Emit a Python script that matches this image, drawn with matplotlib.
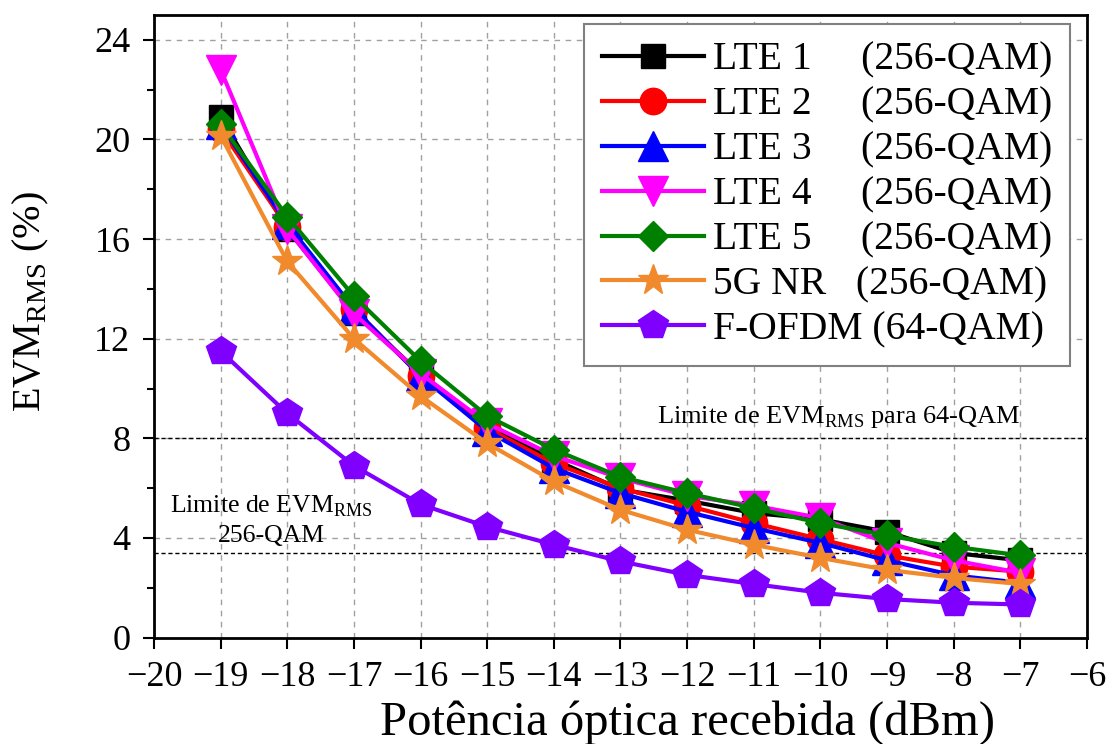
import numpy as np
import matplotlib
matplotlib.use("Agg")
import matplotlib.pyplot as plt

plt.rcParams['font.family'] = ['Liberation Serif', 'DejaVu Serif']
plt.rcParams['mathtext.fontset'] = 'custom'
plt.rcParams['mathtext.rm'] = 'Liberation Serif'

# Received optical power (dBm)
potencia = [-19, -18, -17, -16, -15, -14, -13, -12, -11, -10, -9, -8, -7]

# EVM_RMS (%) per signal
lte1 = [20.9, 16.4, 13.05, 10.6, 8.5, 7.15, 5.95, 5.5, 5.0, 4.75, 4.25, 3.4, 3.1]
lte2 = [20.4, 16.5, 13.2, 10.5, 8.4, 7.0, 6.0, 5.3, 4.6, 3.95, 3.3, 2.85, 2.65]
lte3 = [20.6, 16.6, 13.2, 10.5, 8.3, 6.8, 5.8, 5.05, 4.4, 3.8, 3.1, 2.5, 2.2]
lte4 = [22.8, 16.4, 13.0, 10.6, 8.6, 7.3, 6.4, 5.7, 5.3, 4.8, 3.8, 3.1, 2.6]
lte5 = [20.6, 16.9, 13.7, 11.1, 8.9, 7.55, 6.45, 5.8, 5.2, 4.6, 4.1, 3.65, 3.3]
nr5g = [20.15, 15.1, 12.0, 9.7, 7.8, 6.27, 5.13, 4.33, 3.73, 3.2, 2.72, 2.4, 2.15]
fofdm = [11.5, 9.0, 6.9, 5.35, 4.45, 3.73, 3.06, 2.52, 2.15, 1.8, 1.55, 1.4, 1.33]

series = [
    (lte1, 'LTE 1     (256-QAM)', 'black', 's', 17),
    (lte2, 'LTE 2     (256-QAM)', 'red', 'o', 19),
    (lte3, 'LTE 3     (256-QAM)', 'blue', '^', 21),
    (lte4, 'LTE 4     (256-QAM)', 'magenta', 'v', 21),
    (lte5, 'LTE 5     (256-QAM)', 'green', 'D', 15),
    (nr5g, '5G NR   (256-QAM)', '#F08A2C', '*', 23),
    (fofdm, 'F-OFDM (64-QAM)', '#8000FF', 'p', 22),
]

fig = plt.figure(figsize=(11.08, 7.44), dpi=100)
ax = fig.add_axes([0.139, 0.143, 0.842, 0.837])

ax.grid(True, color='#A0A0A0', linestyle=(0, (4, 4)), linewidth=1)
ax.set_axisbelow(True)

# EVM limits
ax.axhline(8, color='black', linestyle=(0, (3, 2)), linewidth=1, zorder=1)
ax.axhline(3.4, color='black', linestyle=(0, (3, 2)), linewidth=1, zorder=1)

for y, lab, c, m, ms in series:
    ax.plot(potencia, y, color=c, marker=m, markersize=ms, linewidth=3, label=lab)

ax.text(-7.0, 8.6, r'Limite de EVM$_{\mathrm{RMS}}$ para 64-QAM', ha='right', va='baseline', fontsize=19)
ax.text(-18.24, 5.02, r'Limite de EVM$_{\mathrm{RMS}}$', ha='center', va='baseline', fontsize=18.5)
ax.text(-18.24, 3.85, '256-QAM', ha='center', va='baseline', fontsize=18.5)

ax.set_xlim(-20, -6)
ax.set_ylim(0, 25)
ax.set_xticks(np.arange(-20, -5, 1))
ax.set_yticks(np.arange(0, 25, 4))
ax.set_yticks(np.arange(2, 25, 4), minor=True)
ax.tick_params(axis='both', which='major', labelsize=26, length=8, width=1.5, direction='out', pad=9)
ax.tick_params(axis='y', which='minor', length=5, width=1.5, direction='out')
for s in ax.spines.values():
    s.set_linewidth(2)

ax.set_xlabel('Potência óptica recebida (dBm)', fontsize=35)
ax.set_ylabel(r'EVM$_{\mathrm{RMS}}$ (%)', fontsize=29)
ax.xaxis.set_label_coords(0.572, -0.1)
ax.yaxis.set_label_coords(-0.11, 0.54)

leg = ax.legend(loc='upper right', fontsize=28.5, fancybox=False, edgecolor='#808080',
                framealpha=1, handlelength=2.57, handletextpad=0.23, borderpad=0.45,
                labelspacing=0.2, borderaxespad=0, bbox_to_anchor=(0.982, 0.9855))
leg.get_frame().set_linewidth(1.5)

fig.savefig('out.png', dpi=100)
